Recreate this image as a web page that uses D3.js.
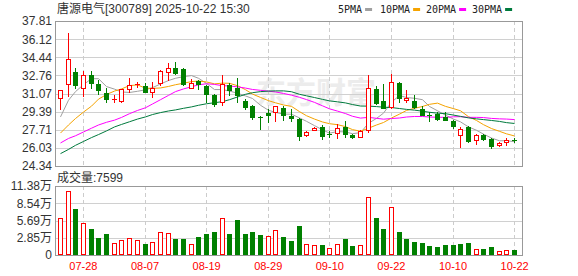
<!DOCTYPE html>
<html>
<head>
<meta charset="utf-8">
<script src="https://cdn.jsdelivr.net/npm/d3@7"></script>
<style>
  body { margin: 0; background: #fff; }
  svg { display: block; }
</style>
</head>
<body>
<div id="chart"></div>
<script>
// daily candles 300789, 2025-07-23 .. 2025-10-22
var dates = ["07-23","07-24","07-25","07-28","07-29","07-30","07-31","08-01","08-04","08-05",
  "08-06","08-07","08-08","08-11","08-12","08-13","08-14","08-15","08-18","08-19",
  "08-20","08-21","08-22","08-25","08-26","08-27","08-28","08-29","09-01","09-02",
  "09-03","09-04","09-05","09-08","09-09","09-10","09-11","09-12","09-15","09-16",
  "09-17","09-18","09-19","09-22","09-23","09-24","09-25","09-26","09-29","09-30",
  "10-09","10-10","10-13","10-14","10-15","10-16","10-17","10-20","10-21","10-22"];

var open = [30.70,31.94,33.06,31.54,32.75,31.94,31.10,30.55,30.39,31.45,
  31.90,31.76,31.26,32.07,33.09,33.46,33.34,31.63,32.22,31.76,
  30.92,30.27,31.82,31.63,30.39,29.89,28.90,29.28,29.37,29.77,
  29.03,28.75,27.26,27.66,27.97,27.30,27.44,27.97,27.26,27.07,
  27.66,31.45,30.36,29.83,32.07,30.45,30.39,29.59,29.05,29.21,
  28.90,28.53,27.26,27.97,26.73,27.22,26.85,26.29,26.54,26.76];
var high = [31.40,36.72,33.46,33.19,33.19,32.32,31.63,30.95,31.50,32.47,
  32.16,32.07,32.13,33.25,33.93,33.96,33.46,32.38,32.32,31.82,
  31.07,32.78,32.07,32.50,30.58,29.99,29.03,29.59,29.90,29.89,
  29.68,28.84,27.56,27.97,28.13,27.60,28.28,28.50,27.35,27.69,
  32.78,31.79,32.00,32.87,32.16,31.38,30.89,29.89,29.31,29.34,
  29.34,28.65,27.97,28.03,27.35,27.35,26.98,26.54,26.92,26.95];
var low = [29.68,30.83,31.54,30.83,31.60,31.07,30.24,30.24,30.30,31.26,
  31.70,31.20,30.76,31.82,32.32,32.87,31.82,31.60,31.51,30.27,
  29.96,30.05,30.92,30.27,29.68,28.68,27.81,28.44,28.50,28.59,
  28.53,26.79,27.13,27.66,26.82,27.04,26.98,27.04,26.98,27.07,
  27.50,30.14,29.77,29.74,30.24,30.30,29.77,29.06,28.53,28.65,
  28.59,27.91,26.11,26.57,26.36,26.79,26.01,26.23,26.29,26.54];
var close = [31.38,34.24,31.82,32.75,32.07,31.38,30.58,30.60,31.45,31.82,
  31.95,31.26,31.60,33.15,33.46,33.00,32.00,32.07,31.94,31.04,
  30.14,32.00,31.38,30.92,29.83,28.90,28.85,29.12,29.89,29.06,
  28.84,27.13,27.54,27.88,27.13,27.25,27.91,27.35,27.07,27.60,
  31.60,30.20,29.77,32.16,30.70,30.68,29.83,29.12,29.00,28.72,
  28.65,28.03,27.78,26.67,27.19,26.85,26.23,26.45,26.73,26.72];
// volume in 万 (10k lots)
var volume = [6.08,10.61,7.62,5.30,4.31,2.82,3.48,1.99,2.43,2.76,
  2.43,1.82,2.10,3.76,3.65,2.65,2.65,1.82,2.98,3.48,
  3.81,6.08,3.48,5.80,3.48,3.81,3.31,3.09,4.09,2.98,
  2.32,4.81,1.77,1.60,1.60,1.10,1.77,2.60,1.49,1.60,
  9.56,6.13,4.31,7.90,3.81,2.65,2.15,1.99,1.49,1.33,
  1.66,1.66,1.82,1.99,0.94,0.99,1.33,0.61,0.77,0.76];

var ma5 = [28.90,30.45,31.25,31.90,32.45,32.45,31.72,31.48,31.22,31.17,
  31.28,31.42,31.62,31.96,32.28,32.49,32.64,32.74,32.49,32.01,
  31.44,31.44,31.30,31.10,30.85,30.61,29.98,29.52,29.32,29.16,
  29.15,28.81,28.49,28.09,27.70,27.39,27.54,27.50,27.34,27.44,
  28.31,28.76,29.25,30.27,30.89,30.70,30.63,30.50,29.87,29.47,
  29.06,28.70,28.44,27.97,27.66,27.30,26.94,26.68,26.69,26.60];
var ma10 = [27.40,28.15,28.75,29.35,29.90,30.55,30.98,31.30,31.50,31.81,
  31.87,31.57,31.55,31.59,31.73,31.89,32.03,32.18,32.23,32.15,
  31.97,32.04,32.02,31.80,31.43,31.02,30.71,30.41,30.21,30.01,
  29.88,29.39,29.01,28.70,28.43,28.27,28.18,28.00,27.72,27.57,
  27.85,28.15,28.38,28.80,29.16,29.50,29.70,29.87,30.07,30.18,
  29.88,29.67,29.47,28.92,28.57,28.18,27.82,27.56,27.33,27.13];
var ma20 = [26.48,26.90,27.15,27.50,27.85,28.15,28.40,28.60,28.85,29.20,
  29.50,29.75,30.10,30.50,30.90,31.25,31.50,31.70,31.88,31.98,
  31.92,31.80,31.78,31.69,31.58,31.45,31.37,31.29,31.22,31.08,
  30.92,30.72,30.51,30.25,29.93,29.65,29.44,29.21,28.96,28.79,
  28.86,28.77,28.69,28.75,28.80,28.89,28.94,28.94,28.89,28.87,
  28.86,28.91,28.92,28.86,28.86,28.84,28.76,28.72,28.70,28.65];
var ma30 = [25.49,25.88,26.26,26.62,26.98,27.26,27.60,27.97,28.20,28.45,
  28.70,28.90,29.12,29.30,29.45,29.55,29.70,29.83,29.98,30.12,
  30.22,30.32,30.50,30.75,31.00,31.15,31.25,31.30,31.32,31.32,
  31.24,31.00,30.86,30.70,30.53,30.39,30.30,30.20,30.05,29.91,
  29.90,29.86,29.80,29.77,29.68,29.60,29.53,29.43,29.33,29.25,
  29.20,29.07,28.95,28.81,28.72,28.65,28.57,28.48,28.37,28.29];

var priceTicks = [37.81, 36.12, 34.44, 32.76, 31.07, 29.39, 27.71, 26.03, 24.34];
var volTicks = [11.38, 8.54, 5.69, 2.85, 0];
var volTickLabels = ["11.38万", "8.54万", "5.69万", "2.85万", "0"];
var dateTicks = ["07-28", "08-07", "08-19", "08-29", "09-10", "09-22", "10-10", "10-22"];

var maSeries = [
  {name: "5PMA", values: ma5, colour: "#a0a0a0"},
  {name: "10PMA", values: ma10, colour: "#f5a300"},
  {name: "20PMA", values: ma20, colour: "#ff00ff"},
  {name: "30PMA", values: ma30, colour: "#007a3d"}
];

var W = 578, H = 276;
var L = 56, R = 522, T = 21, B = 166;
var VT = 186, VB = 255;
var UP = "#ff0000", DOWN = "#008000";
var FONT = "'Liberation Sans', Arial, 'Noto Sans CJK SC', sans-serif";

var svg = d3.select("#chart").append("svg")
  .attr("width", W)
  .attr("height", H);

var x = d3.scaleBand().domain(dates).range([56.45, 518.45]);
var y = d3.scaleLinear().domain([24.34, 37.81]).range([B, T]);
var vy = d3.scaleLinear().domain([0, 11.38]).range([VB, VT]);

function col(i) { return Math.floor(x(dates[i]) + x.bandwidth() / 2); }
function crisp(v) { return Math.round(v) + 0.5; }

// watermark
svg.append("text")
  .attr("x", 256).attr("y", 103)
  .attr("font-family", "'Noto Sans CJK SC', sans-serif")
  .attr("font-size", 30)
  .attr("font-weight", "bold")
  .attr("fill", "#ececec")
  .text("东方财富");

// horizontal grid
svg.append("g").selectAll("line")
  .data(priceTicks)
  .join("line")
  .attr("x1", L).attr("x2", R)
  .attr("y1", d => crisp(y(d))).attr("y2", d => crisp(y(d)))
  .attr("stroke", "#d0d0d0");

svg.append("g").selectAll("line")
  .data(volTicks)
  .join("line")
  .attr("x1", L).attr("x2", R)
  .attr("y1", d => crisp(vy(d))).attr("y2", d => crisp(vy(d)))
  .attr("stroke", "#d0d0d0");

// vertical dashed grid at date ticks
var vg = svg.append("g").selectAll("g")
  .data(dateTicks)
  .join("g");
vg.append("line")
  .attr("x1", d => col(dates.indexOf(d)) + 0.5).attr("x2", d => col(dates.indexOf(d)) + 0.5)
  .attr("y1", T).attr("y2", B)
  .attr("stroke", "#cccccc").attr("stroke-dasharray", "4,3");
vg.append("line")
  .attr("x1", d => col(dates.indexOf(d)) + 0.5).attr("x2", d => col(dates.indexOf(d)) + 0.5)
  .attr("y1", VT).attr("y2", VB)
  .attr("stroke", "#cccccc").attr("stroke-dasharray", "4,3");

// frames
svg.append("rect")
  .attr("x", L - 0.5).attr("y", T + 0.5)
  .attr("width", R - L + 1).attr("height", B - T)
  .attr("fill", "none").attr("stroke", "#999");
svg.append("rect")
  .attr("x", L - 0.5).attr("y", VT + 0.5)
  .attr("width", R - L + 1).attr("height", VB - VT)
  .attr("fill", "none").attr("stroke", "#999");

// moving averages
var line = d3.line()
  .x((d, i) => col(i) + 0.5)
  .y(d => y(d));
svg.append("g").selectAll("path")
  .data(maSeries)
  .join("path")
  .attr("d", d => line(d.values))
  .attr("fill", "none")
  .attr("stroke", d => d.colour)
  .attr("stroke-width", 1);

// candles
var idx = d3.range(dates.length);
var candles = svg.append("g").selectAll("g")
  .data(idx)
  .join("g");

candles.append("line")
  .attr("x1", i => col(i) + 0.5).attr("x2", i => col(i) + 0.5)
  .attr("y1", i => Math.round(y(high[i])))
  .attr("y2", i => Math.round(y(low[i])) + 1)
  .attr("stroke", i => close[i] >= open[i] ? UP : DOWN);

candles.append("rect")
  .each(function(i) {
    var up = close[i] >= open[i];
    var top = Math.round(y(Math.max(open[i], close[i])));
    var bot = Math.round(y(Math.min(open[i], close[i])));
    var h = bot - top;
    var r = d3.select(this);
    if(h <= 1) {
      r.attr("x", col(i) - 2).attr("y", top).attr("width", 5).attr("height", 1)
        .attr("fill", up ? UP : DOWN);
    } else if(up) {
      r.attr("x", col(i) - 1.5).attr("y", top + 0.5).attr("width", 4).attr("height", h)
        .attr("fill", "#fff").attr("stroke", UP);
    } else {
      r.attr("x", col(i) - 2).attr("y", top).attr("width", 5).attr("height", h + 1)
        .attr("fill", DOWN);
    }
  });

// volume bars, coloured by close against previous close
svg.append("g").selectAll("rect")
  .data(idx)
  .join("rect")
  .each(function(i) {
    var up = i === 0 ? close[i] >= open[i] : close[i] > close[i - 1];
    var top = Math.round(vy(volume[i]));
    var r = d3.select(this);
    if(up) {
      r.attr("x", col(i) - 1.5).attr("y", top + 0.5).attr("width", 4).attr("height", VB - top - 1)
        .attr("fill", "#fff").attr("stroke", UP);
    } else {
      r.attr("x", col(i) - 2).attr("y", top).attr("width", 5).attr("height", VB - top)
        .attr("fill", DOWN);
    }
  });

// axes
var yAxis = svg.append("g")
  .attr("transform", "translate(" + L + ",0)")
  .call(d3.axisLeft(y).tickValues(priceTicks).tickSize(0).tickPadding(4).tickFormat(d3.format(".2f")));
var vAxis = svg.append("g")
  .attr("transform", "translate(" + L + ",0)")
  .call(d3.axisLeft(vy).tickValues(volTicks).tickSize(0).tickPadding(4)
    .tickFormat((d, i) => volTickLabels[i]));
var xAxis = svg.append("g")
  .attr("transform", "translate(0," + VB + ")")
  .call(d3.axisBottom(x).tickValues(dateTicks).tickSize(0).tickPadding(7));

[yAxis, vAxis].forEach(function(g) {
  g.select(".domain").remove();
  g.selectAll("text").attr("font-family", FONT).attr("font-size", 12).attr("fill", "#333");
});
xAxis.select(".domain").remove();
xAxis.selectAll("text").attr("font-family", FONT).attr("font-size", 11).attr("fill", UP);

// title and volume caption
svg.append("text")
  .attr("x", 57).attr("y", 13)
  .attr("font-family", FONT).attr("font-size", 12).attr("fill", "#333")
  .text("唐源电气[300789] 2025-10-22 15:30");
svg.append("text")
  .attr("x", 57).attr("y", 182)
  .attr("font-family", FONT).attr("font-size", 12).attr("fill", "#333")
  .text("成交量:7599");

// legend
var legendX = [338, 380, 426, 472];
var lg = svg.append("g").selectAll("g")
  .data(maSeries)
  .join("g")
  .attr("transform", (d, i) => "translate(" + legendX[i] + ",0)");
lg.append("text")
  .attr("x", 0).attr("y", 13)
  .attr("font-family", "'DejaVu Sans Mono', monospace").attr("font-size", 10).attr("fill", "#222")
  .text(d => d.name);
lg.append("rect")
  .attr("x", d => d.name.length * 6.02 + 3).attr("y", 8)
  .attr("width", 7).attr("height", 3)
  .attr("fill", d => d.colour);
</script>
</body>
</html>
